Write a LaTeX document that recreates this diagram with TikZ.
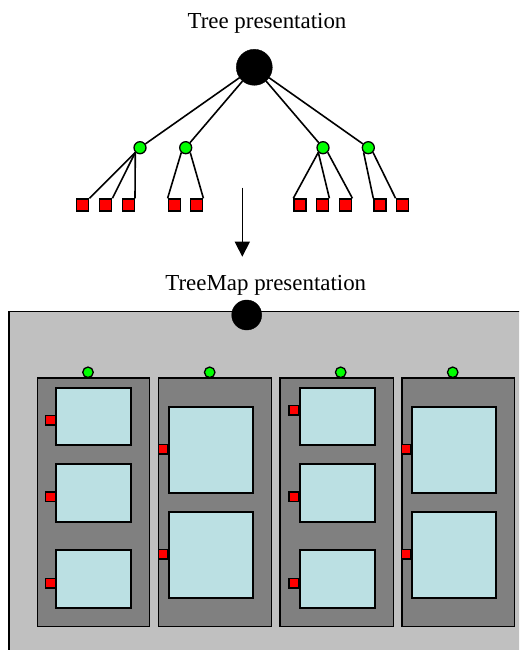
\documentclass[tikz,border=0pt]{standalone}
\usepackage{fontspec}
\setmainfont{Liberation Serif}
\usetikzlibrary{arrows.meta}
\definecolor{mapbg}{HTML}{C0C0C0}
\definecolor{groupbg}{HTML}{808080}
\definecolor{leafbg}{HTML}{BBE0E3}
\definecolor{nodegreen}{HTML}{00FF00}
\definecolor{nodered}{HTML}{FF0000}
\tikzset{
  caption/.style={font=\fontsize{22.9}{27}\selectfont, inner sep=0pt, anchor=base},
  rootnode/.style={circle, fill=black, draw=black, inner sep=0pt, minimum size=#1},
  midnode/.style={circle, fill=nodegreen, draw=black, line width=1.3pt, inner sep=0pt, minimum size=#1},
  leafnode/.style={rectangle, fill=nodered, draw=black, line width=1.4pt, inner sep=0pt, minimum size=#1},
  edge/.style={draw=black, line width=1.6pt},
  groupbox/.style={rectangle, fill=groupbg, draw=black, line width=1.3pt, inner sep=0pt, anchor=north west},
  leafbox/.style={rectangle, fill=leafbg, draw=black, line width=1.9pt, inner sep=0pt, anchor=north west},
}
\begin{document}
\begin{tikzpicture}[x=1pt, y=-1pt]
\useasboundingbox (0,0) rectangle (519,650);
\clip (0,0) rectangle (519,650);

% ---------- tree view ----------
\node[caption] (t1) at (267,29) {Tree presentation};
\node[rootnode=36pt] (root) at (254.3,67.3) {};

\node[midnode=12pt] (g1) at (140,147.7) {};
\node[midnode=12pt] (g2) at (185.7,147.7) {};
\node[midnode=12pt] (g3) at (323,147.7) {};
\node[midnode=12pt] (g4) at (368.3,147.7) {};

\foreach \i/\x in {1/82.7, 2/105.7, 3/128.3, 4/174.3, 5/196.7,
                   6/300, 7/322.7, 8/345.7, 9/380, 10/402.3}
  \node[leafnode=12pt] (s\i) at (\x,205) {};

\foreach \g in {g1,g2,g3,g4}
  \draw[edge] (root) -- (\g);

\draw[edge] (g1.225) -- (s1.north east);
\draw[edge] (g1.225) -- (s2.north east);
\draw[edge] (g1.225) -- (s3.north east);
\draw[edge] (g2.228) -- (s4.north west);
\draw[edge] (g2.313) -- (s5.north east);
\draw[edge] (g3.225) -- (s6.north west);
\draw[edge] (g3.225) -- (s7.north east);
\draw[edge] (g3.315) -- (s8.north east);
\draw[edge] (g4.225) -- (s9.north west);
\draw[edge] (g4.315) -- (s10.north west);

% ---------- transition arrow ----------
\coordinate (arrS) at (242.3,187.7);
\coordinate (arrE) at (242.3,256.7);
\draw[line width=1.5pt, -{Triangle[width=15pt,length=15pt]}] (arrS) -- (arrE);

% ---------- treemap view ----------
\node[caption] (t2) at (265.8,290.7) {TreeMap presentation};
\node[rectangle, fill=mapbg, draw=black, line width=1.3pt, inner sep=0pt,
      anchor=north west, minimum width=530pt, minimum height=360pt] (map) at (8.3,310.7) {};
\node[rootnode=30pt] (mroot) at (246.7,315) {};

% group boxes
\foreach \n/\x/\w in {1/36.7/112.3, 2/157.7/113, 3/279.3/113.4, 4/401.3/112.7}
  \node[groupbox, minimum width=\w pt, minimum height=248.4pt] (grp\n) at (\x,377.3) {};

% green markers above groups
\foreach \n/\x in {1/88, 2/209.7, 3/340.7, 4/452.7}
  \node[midnode=10.5pt] (mg\n) at (\x,372.3) {};

% three-leaf groups
\foreach \n/\x in {1/55.3, 3/298.7}{
  \node[leafbox, minimum width=75pt, minimum height=57pt] (lf\n a) at (\x,387) {};
  \node[leafbox, minimum width=75pt, minimum height=57.7pt] (lf\n b) at (\x,463.3) {};
  \node[leafbox, minimum width=75pt, minimum height=57.4pt] (lf\n c) at (\x,549.3) {};
}
% two-leaf groups
\foreach \n/\x in {2/167.7, 4/411}{
  \node[leafbox, minimum width=84.3pt, minimum height=86.6pt] (lf\n a) at (\x,405.7) {};
  \node[leafbox, minimum width=84.3pt, minimum height=86pt] (lf\n b) at (\x,511) {};
}

% red markers on the left of leaves
\foreach \nm/\x/\y in {r1a/50.5/420, r1b/50.5/496.7, r1c/50.5/583,
                       r2a/163/449, r2b/163/554,
                       r3a/293.9/410.3, r3b/293.9/496.7, r3c/293.9/583,
                       r4a/406.2/449, r4b/406.2/554.3}
  \node[leafnode=9.6pt] (\nm) at (\x,\y) {};
\end{tikzpicture}
\end{document}
